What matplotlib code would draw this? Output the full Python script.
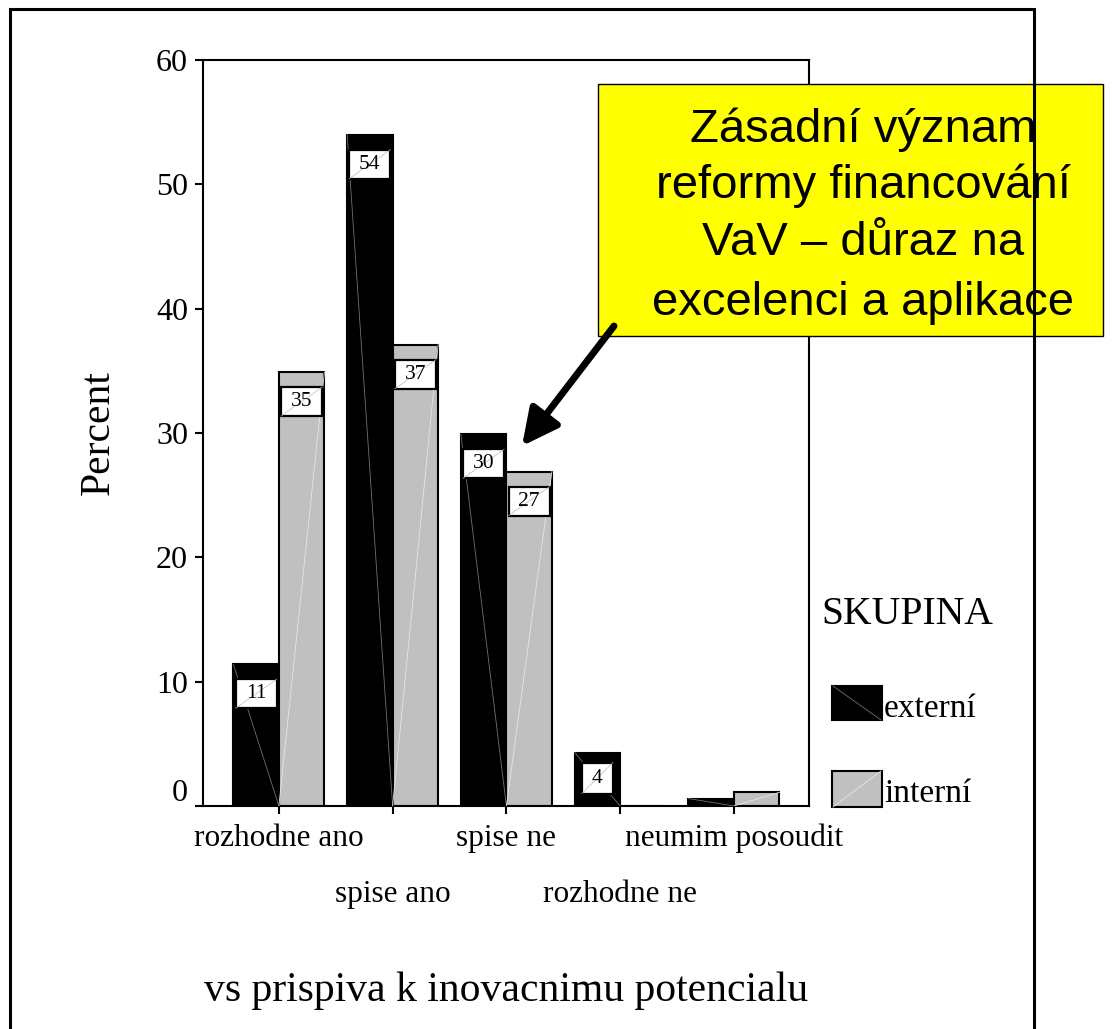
import numpy as np
import matplotlib
matplotlib.use("Agg")
import matplotlib.pyplot as plt
from matplotlib.patches import Rectangle, FancyArrowPatch
from matplotlib.lines import Line2D
from matplotlib.transforms import Affine2D, ScaledTranslation, blended_transform_factory

# ---------------- data ----------------
categories = ["rozhodne ano", "spise ano", "spise ne", "rozhodne ne", "neumim posoudit"]
externi = [11.4, 54.0, 29.9, 4.3, 0.6]
interni = [34.9, 37.1, 26.9, 0.0, 1.1]
externi_labels = ["11", "54", "30", "4", None]
interni_labels = ["35", "37", "27", None, None]
yticks = [0, 10, 20, 30, 40, 50, 60]
series_names = ["externí", "interní"]
legend_title = "SKUPINA"
xlabel = "vs prispiva k inovacnimu potencialu"
ylabel = "Percent"
callout_lines = ["Zásadní význam", "reformy financování", "VaV – důraz na", "excelenci a aplikace"]

plt.rcParams["font.family"] = ["Liberation Serif", "DejaVu Serif"]

W, H = 1115, 1029
fig = plt.figure(figsize=(W / 100, H / 100), dpi=100)


def fx(px):
    return px / W


def fy(py):
    return 1 - py / H


ax = fig.add_axes([fx(203), fy(806), fx(809) - fx(203), fy(60) - fy(806)])

x = np.arange(1, len(categories) + 1)
bw = 0.4
ext_color = "black"
int_color = "#c0c0c0"
b_ext = ax.bar(x - bw / 2, externi, bw, color=ext_color, edgecolor="black", linewidth=1.5, zorder=2)
b_int = ax.bar(x + bw / 2, interni, bw, color=int_color, edgecolor="black", linewidth=1.5, zorder=2)

# faint diagonal rendering lines inside the bars
for r in b_ext:
    if r.get_height() > 0:
        ax.plot([r.get_x(), r.get_x() + r.get_width()], [r.get_height(), 0],
                color="#707070", lw=0.6, zorder=3)
for r in b_int:
    if r.get_height() > 0:
        ax.plot([r.get_x(), r.get_x() + r.get_width()], [0, r.get_height()],
                color="#e6e6e6", lw=0.6, zorder=3)


def value_box(xc, v, s):
    n = len(s)
    w = 21 + 10 * n
    h = 29 if n > 1 else 31
    dy = 29.5 if n > 1 else 25.5
    tr = Affine2D().translate(0, -dy) + ScaledTranslation(xc, v, ax.transData)
    rect = Rectangle((-w / 2, -h / 2), w, h, transform=tr, facecolor="white",
                     edgecolor="black", lw=1.6, zorder=4)
    ax.add_artist(rect)
    diag = Line2D([-w / 2, w / 2], [-h / 2, h / 2], transform=tr, color="#bbbbbb", lw=0.5, zorder=4.5)
    ax.add_artist(diag)
    ax.annotate(s, xy=(xc, v), xytext=(0, -dy), textcoords="offset pixels",
                ha="center", va="center", fontsize=15.5, zorder=5)


for r, lab in zip(b_ext, externi_labels):
    if lab:
        value_box(r.get_x() + r.get_width() / 2, r.get_height(), lab)
for r, lab in zip(b_int, interni_labels):
    if lab:
        value_box(r.get_x() + r.get_width() / 2, r.get_height(), lab)

ax.set_xlim(0.333, 5.66)
ax.set_ylim(0, 60)
ax.set_yticks(yticks)
ax.set_yticklabels([str(t) for t in yticks])
ax.tick_params(axis="y", direction="out", length=5.8, width=1.5, pad=5, labelsize=23)
ax.set_xticks(x)
ax.set_xticklabels([])
ax.tick_params(axis="x", direction="out", length=6, width=1.5)
for sp in ax.spines.values():
    sp.set_linewidth(1.5)

# lift the "0" label a bit like the original
lab0 = ax.get_yticklabels()[0]
lab0.set_transform(lab0.get_transform() + ScaledTranslation(0, 16 / 100, fig.dpi_scale_trans))

# category labels in two staggered rows
tb = blended_transform_factory(ax.transData, ax.transAxes)
for i, (xi, c) in enumerate(zip(x, categories)):
    off = 40 if i % 2 == 0 else 96
    ax.text(xi, 0, c, transform=tb + ScaledTranslation(0, -off / 100, fig.dpi_scale_trans),
            ha="center", va="baseline", fontsize=22.5)

fig.text(fx(99), fy(433), ylabel, rotation=90, ha="center", va="center", fontsize=30)
fig.text(fx(506), fy(1001), xlabel, ha="center", va="baseline", fontsize=30)

# legend (drawn manually)
fig.text(fx(907.5), fy(624), legend_title, ha="center", va="baseline", fontsize=28.5)
leg_rows = [(686, 720, 717), (771, 807, 802)]
leg_diag = [("#707070", True), ("#e6e6e6", False)]
for (top, bot, base), name, col, (dcol, down) in zip(leg_rows, series_names, [ext_color, int_color], leg_diag):
    fig.add_artist(Rectangle((fx(832), fy(bot)), fx(882) - fx(832), fy(top) - fy(bot),
                             transform=fig.transFigure, facecolor=col, edgecolor="black", lw=1.5))
    ys = [fy(top), fy(bot)] if down else [fy(bot), fy(top)]
    fig.add_artist(Line2D([fx(833), fx(881)], ys, transform=fig.transFigure, color=dcol, lw=0.6))
    fig.text(fx(884), fy(base), name, ha="left", va="baseline", fontsize=24)

# yellow callout
fig.add_artist(Rectangle((fx(598), fy(336)), fx(1103) - fx(598), fy(84) - fy(336),
                         transform=fig.transFigure, facecolor="#ffff00", edgecolor="black",
                         lw=1, zorder=5))
for line, base in zip(callout_lines, [142, 198, 255, 315]):
    fig.text(fx(863), fy(base), line, ha="center", va="baseline", fontsize=34,
             family=["Liberation Sans", "DejaVu Sans"], zorder=6)

fig.add_artist(FancyArrowPatch((fx(614), fy(326)), (fx(522), fy(446)), transform=fig.transFigure,
                               arrowstyle="-|>,head_length=0.4,head_width=0.2", mutation_scale=55,
                               lw=5, color="black", shrinkA=0, shrinkB=0, zorder=7))

# outer frame
fig.add_artist(Rectangle((fx(10), fy(1045)), fx(1034) - fx(10), fy(9) - fy(1045),
                         transform=fig.transFigure, fill=False, edgecolor="black", lw=2.2,
                         clip_on=False, zorder=8))

fig.savefig("out.png", dpi=100)
